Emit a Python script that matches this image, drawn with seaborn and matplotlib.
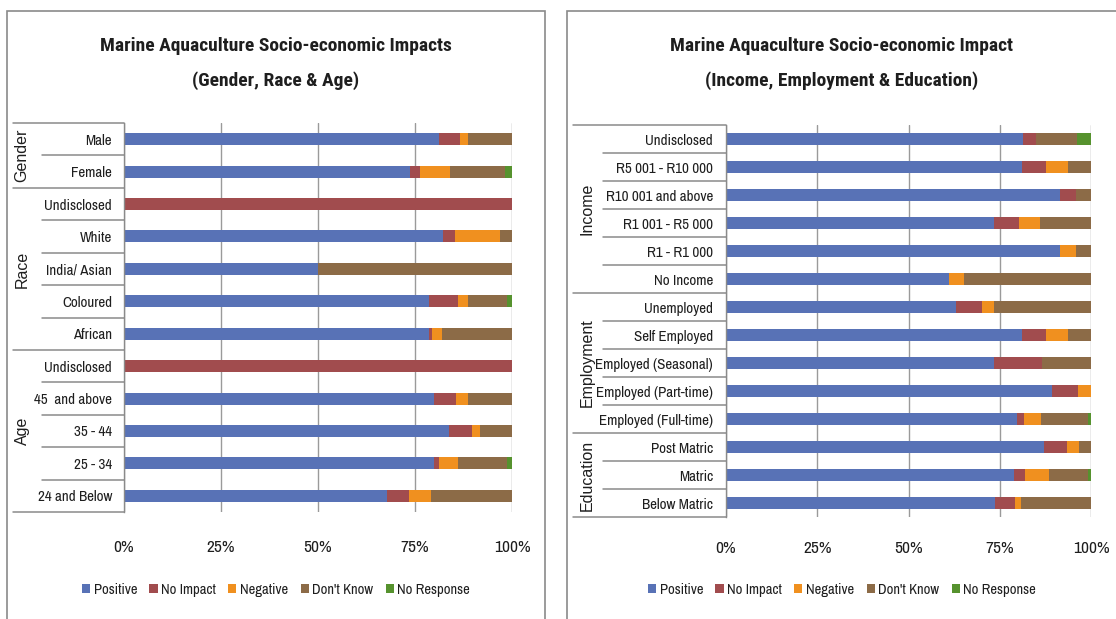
import numpy as np
import pandas as pd
import matplotlib
matplotlib.use("Agg")
import matplotlib.pyplot as plt
import seaborn as sns
from matplotlib import font_manager
from matplotlib.transforms import blended_transform_factory
from matplotlib.patches import Rectangle, Patch
from matplotlib.lines import Line2D

# ---- data -------------------------------------------------------------
SERIES = ["Positive", "No Impact", "Negative", "Don't Know", "No Response"]
COLORS = ["#5872B6", "#A14C4E", "#F0901F", "#8C6B47", "#56922E"]
TICK_LABELS = ["0%", "25%", "50%", "75%", "100%"]

# demographics panel (top to bottom)
labels_demo = ["Male", "Female", "Undisclosed", "White", "India/ Asian", "Coloured",
               "African", "Undisclosed", "45  and above", "35 - 44", "25 - 34",
               "24 and Below"]
groups_demo = [("Gender", 0, 2), ("Race", 2, 7), ("Age", 7, 12)]
positive_demo = [81.3, 73.7, 0, 82.3, 50.0, 78.5, 78.5, 0, 79.9, 83.7, 79.9, 67.7]
no_impact_demo = [5.4, 2.6, 100, 2.9, 0, 7.6, 1.0, 100, 5.7, 6.0, 1.3, 5.7]
negative_demo = [2.0, 7.8, 0, 11.7, 0, 2.6, 2.4, 0, 3.1, 2.0, 5.0, 5.8]
dont_know_demo = [11.3, 14.2, 0, 3.1, 50.0, 10.0, 18.1, 0, 11.3, 8.3, 12.5, 20.8]
no_response_demo = [0, 1.7, 0, 0, 0, 1.3, 0, 0, 0, 0, 1.3, 0]

# income / employment / education panel (top to bottom)
labels_econ = ["Undisclosed", "R5 001 - R10 000", "R10 001 and above", "R1 001 - R5 000",
               "R1 - R1 000", "No Income", "Unemployed", "Self Employed",
               "Employed (Seasonal)", "Employed (Part-time)", "Employed (Full-time)",
               "Post Matric", "Matric", "Below Matric"]
groups_econ = [("Income", 0, 6), ("Employment", 6, 11), ("Education", 11, 14)]
positive_econ = [81.5, 81.2, 91.4, 73.3, 91.4, 61.0, 63.1, 81.2, 73.3, 89.3, 79.8, 87.1, 79.0, 73.8]
no_impact_econ = [3.5, 6.4, 4.6, 7.0, 0, 0, 7.0, 6.4, 13.2, 7.2, 1.9, 6.2, 3.0, 5.5]
negative_econ = [0, 6.0, 0, 5.7, 4.4, 4.1, 3.3, 6.0, 0, 3.5, 4.6, 3.5, 6.4, 1.5]
dont_know_econ = [11.3, 6.4, 4.0, 14.0, 4.2, 34.9, 26.6, 6.4, 13.5, 0, 12.8, 3.2, 10.7, 19.2]
no_response_econ = [3.7, 0, 0, 0, 0, 0, 0, 0, 0, 0, 0.9, 0, 0.9, 0]

# ---- fonts ------------------------------------------------------------
NARROW_CANDIDATES = ["Arial Narrow", "Liberation Sans Narrow", "Archivo Narrow",
                     "Roboto Condensed", "PT Sans Narrow", "IBM Plex Sans Condensed",
                     "Fira Sans Condensed", "Open Sans Condensed", "Sofia Sans Condensed"]


def _weights(name):
    out = []
    for f in font_manager.fontManager.ttflist:
        if f.name == name:
            try:
                out.append(int(f.weight))
            except (TypeError, ValueError):
                out.append(700 if "bold" in str(f.weight).lower() else 400)
    return out


def pick_family(bold=False):
    for name in NARROW_CANDIDATES:
        w = _weights(name)
        if w and (not bold or max(w) >= 600):
            return name
    return "Liberation Sans"


NARROW = pick_family()
NARROW_BOLD = pick_family(bold=True)
REGULAR = ["Liberation Sans", "DejaVu Sans"]

# ---- style ------------------------------------------------------------
sns.set_theme(style="white")
plt.rcParams["font.family"] = [NARROW, "DejaVu Sans"]
GRID = "#9a9a9a"
LINE = "#8a8a8a"
TEXT = "#1e1e1e"

W, H = 1116, 619
fig = plt.figure(figsize=(W / 100, H / 100), dpi=100)
fig.patch.set_facecolor("white")


def fx(px):
    return px / W


def fy(py):
    return 1 - py / H


def panel_border(x0, y0, x1, y1):
    fig.add_artist(Rectangle((fx(x0), fy(y1)), fx(x1) - fx(x0), fy(y0) - fy(y1),
                             transform=fig.transFigure, fill=False,
                             edgecolor=LINE, linewidth=1.2))


def draw_panel(ax, labels, groups, values, bar_w, ypad, xpad,
               outer_x, inner_x, group_x):
    n = len(labels)
    df = pd.DataFrame({"row": np.arange(n)})
    running = np.zeros(n)
    for name, vals in zip(SERIES, values):
        running = running + np.asarray(vals, dtype=float)
        df[name] = running
    # stacked bars: draw cumulative totals from the outermost segment inwards
    for name, color in reversed(list(zip(SERIES, COLORS))):
        sns.barplot(data=df, x=name, y="row", orient="h", order=list(range(n)),
                    color=color, saturation=1, width=bar_w, errorbar=None,
                    linewidth=0, ax=ax)
    ax.set_xlim(0, 100)
    ax.set_ylim(n - 0.5, -0.5)
    ax.set_xticks([0, 25, 50, 75, 100])
    ax.set_xticklabels(TICK_LABELS)
    ax.set_yticks(range(n))
    ax.set_yticklabels(labels)
    ax.set_xlabel("")
    ax.set_ylabel("")
    ax.set_facecolor("white")
    ax.grid(axis="x", color=GRID, linewidth=1)
    ax.grid(axis="y", visible=False)
    ax.set_axisbelow(True)
    for side in ("top", "right", "bottom"):
        ax.spines[side].set_visible(False)
    ax.spines["left"].set_color(LINE)
    ax.spines["left"].set_linewidth(1)
    ax.tick_params(axis="x", length=6, width=1, color=GRID, direction="out",
                   pad=xpad, labelsize=12.5, labelcolor=TEXT)
    ax.tick_params(axis="y", length=0, pad=ypad, labelsize=10.8, labelcolor=TEXT)

    # multi-level category axis: separators and group names
    trans = blended_transform_factory(fig.transFigure, ax.transData)
    ax_left = ax.get_position().x0
    edges = {g[1] for g in groups} | {g[2] for g in groups}
    for b in range(n + 1):
        x0 = outer_x if b in edges else inner_x
        fig.add_artist(Line2D([fx(x0), ax_left], [b - 0.5, b - 0.5],
                              transform=trans, color=LINE, linewidth=1.1))
    for name, start, stop in groups:
        fig.text(fx(group_x), (start + stop - 1) / 2, name, transform=trans,
                 rotation=90, ha="center", va="center", fontsize=11.5,
                 family=REGULAR, color=TEXT)


def legend_at(cx, cy):
    handles = [Patch(facecolor=c, edgecolor="none") for c in COLORS]
    fig.legend(handles, SERIES, loc="center", bbox_to_anchor=(fx(cx), fy(cy)),
               ncol=5, frameon=False, fontsize=10.5, handlelength=0.55,
               handleheight=0.55, handletextpad=0.25, columnspacing=0.85,
               labelcolor=TEXT)


def title_at(cx, text):
    fig.text(fx(cx), fy(63.5), text, ha="center", va="center", fontsize=14,
             fontweight="bold", family=[NARROW_BOLD, "DejaVu Sans"],
             linespacing=2.1, color=TEXT)


# ---- left panel -------------------------------------------------------
panel_border(7, 11, 545, 660)
axL = fig.add_axes([fx(124), fy(512), fx(512) - fx(124), fy(123) - fy(512)])
draw_panel(axL, labels_demo, groups_demo,
           [positive_demo, no_impact_demo, negative_demo, dont_know_demo, no_response_demo],
           bar_w=0.37, ypad=8.6, xpad=14, outer_x=13, inner_x=42, group_x=22)
title_at(276, "Marine Aquaculture Socio-economic Impacts\n(Gender, Race & Age)")
legend_at(276, 590)

# ---- right panel ------------------------------------------------------
panel_border(567, 11, 1130, 660)
axR = fig.add_axes([fx(726), fy(517), fx(1091) - fx(726), fy(125) - fy(517)])
draw_panel(axR, labels_econ, groups_econ,
           [positive_econ, no_impact_econ, negative_econ, dont_know_econ, no_response_econ],
           bar_w=0.41, ypad=9.4, xpad=11, outer_x=573, inner_x=603, group_x=587)
title_at(842, "Marine Aquaculture Socio-economic Impact\n(Income, Employment & Education)")
legend_at(842, 590)

fig.savefig("out.png", dpi=100, facecolor="white")
